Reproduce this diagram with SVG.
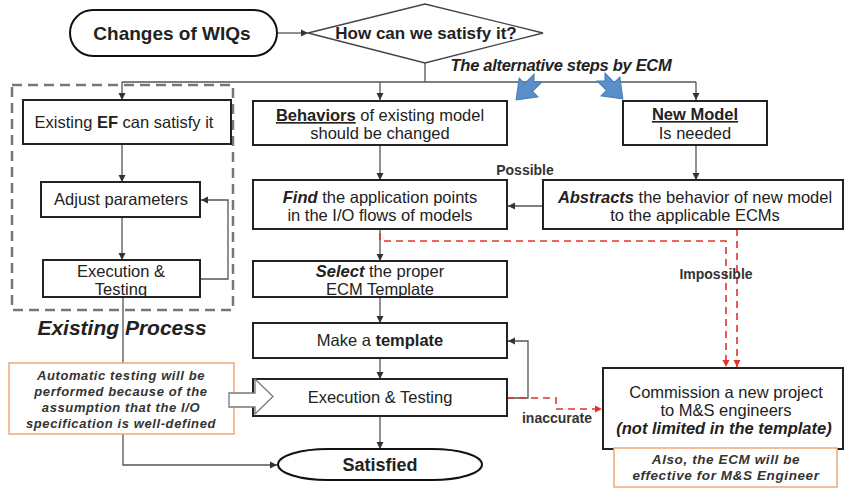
<svg xmlns="http://www.w3.org/2000/svg" width="845" height="489" viewBox="0 0 845 489">
<defs>
<marker id="ah" markerWidth="8" markerHeight="8" refX="7" refY="4" orient="auto" markerUnits="userSpaceOnUse">
<path d="M0,0.5 L7,4 L0,7.5 Z" fill="#333"/>
</marker>
<marker id="ahr" markerWidth="8" markerHeight="8" refX="7" refY="4" orient="auto" markerUnits="userSpaceOnUse">
<path d="M0,0.5 L7,4 L0,7.5 Z" fill="#e8302a"/>
</marker>
</defs>
<style>
.box{fill:#fff;stroke:#222;stroke-width:2}
.t{font-family:"Liberation Sans",Arial,sans-serif;font-size:16.5px;fill:#222;text-anchor:middle}
.b{font-weight:bold}
.i{font-style:italic}
.c{fill:none;stroke:#555;stroke-width:1.3}
.r{fill:none;stroke:#e8302a;stroke-width:1.6;stroke-dasharray:7,5}
.call{fill:#fff;stroke:#f0a878;stroke-width:1.5}
.ct{font-family:"Liberation Sans",Arial,sans-serif;font-size:13px;font-weight:bold;font-style:italic;fill:#333;text-anchor:middle;letter-spacing:0.6px}
.lab{font-family:"Liberation Sans",Arial,sans-serif;font-size:14px;font-weight:bold;fill:#333;text-anchor:middle}
.blue{fill:#5b8fc9;stroke:#4a7db5;stroke-width:1}
</style>

<g id="connectors">
<path class="c" d="M277,33 L308,33" marker-end="url(#ah)"/>
<path class="c" d="M425,63 L425,82 M122,82 L696,82"/>
<path class="c" d="M122,82 L122,100" marker-end="url(#ah)"/>
<path class="c" d="M380,82 L380,100" marker-end="url(#ah)"/>
<path class="c" d="M696,82 L696,100" marker-end="url(#ah)"/>
<path class="c" d="M122,144 L122,182" marker-end="url(#ah)"/>
<path class="c" d="M122,217 L122,260" marker-end="url(#ah)"/>
<path class="c" d="M200,279 L228,279 L228,200 L201,200" marker-end="url(#ah)"/>
<path class="c" d="M123,297 L123,363 M123,434 L123,465 L277,465" marker-end="url(#ah)"/>
<path class="c" d="M380,145 L380,180" marker-end="url(#ah)"/>
<path class="c" d="M696,145 L696,180" marker-end="url(#ah)"/>
<path class="c" d="M543,206 L508,206" marker-end="url(#ah)"/>
<path class="c" d="M380,229 L380,261" marker-end="url(#ah)"/>
<path class="c" d="M380,297 L380,323" marker-end="url(#ah)"/>
<path class="c" d="M380,358 L380,379" marker-end="url(#ah)"/>
<path class="c" d="M380,416 L380,449" marker-end="url(#ah)"/>
<path class="c" d="M507,398 L528,398 L528,341 L508,341" marker-end="url(#ah)"/>
<path class="r" d="M380,233 L380,241 L726,241 L726,367" marker-end="url(#ahr)"/>
<path class="r" d="M737,229 L737,367" marker-end="url(#ahr)"/>
<path class="r" d="M507,398 L556,398 L556,409 L602,409" marker-end="url(#ahr)"/>
<text class="lab" x="525" y="175">Possible</text>
<text class="lab" x="716" y="279">Impossible</text>
<text class="lab" x="557" y="423">inaccurate</text>
</g>

<g id="start">
<rect x="70" y="10" width="207" height="46" rx="23" ry="23" fill="#fff" stroke="#111" stroke-width="2"/>
<text class="t b" x="172" y="40" style="font-size:19px">Changes of WIQs</text>
</g>

<g id="decision">
<polygon points="308,33 425,4 543,33 425,63" fill="#fff" stroke="#444" stroke-width="1.3"/>
<text class="t b" x="426" y="39" style="font-size:17px">How can we satisfy it?</text>
</g>

<g id="alt-label">
<text class="t b i" x="561" y="71" style="font-size:16.5px;letter-spacing:-0.3px">The alternative steps by ECM</text>
<polygon class="blue" transform="translate(527,89) rotate(135) scale(1.1)" points="-14,-5 -2,-5 -2,-12 14,0 -2,12 -2,5 -14,5 -9,0"/>
<polygon class="blue" transform="translate(612,88) rotate(45) scale(1.1)" points="-14,-5 -2,-5 -2,-12 14,0 -2,12 -2,5 -14,5 -9,0"/>
</g>

<g id="existing-process">
<rect x="12" y="85" width="221" height="225" fill="none" stroke="#777" stroke-width="2.5" stroke-dasharray="10,6"/>
<text class="t b i" x="122" y="335" style="font-size:21px">Existing Process</text>
</g>

<g id="existing-ef">
<rect class="box" x="23" y="100" width="208" height="44"/>
<text class="t" x="124" y="128">Existing <tspan class="b">EF</tspan> can satisfy it</text>
</g>

<g id="adjust">
<rect class="box" x="41" y="182" width="159" height="35"/>
<text class="t" x="121" y="205">Adjust parameters</text>
</g>

<g id="exec-left">
<rect class="box" x="43" y="260" width="157" height="37"/>
<text class="t" x="121" y="277">Execution &amp;</text>
<text class="t" x="121" y="295">Testing</text>
</g>

<g id="behaviors">
<rect class="box" x="253" y="101" width="254" height="44"/>
<text class="t" x="380" y="121"><tspan class="b" text-decoration="underline">Behaviors</tspan> of existing model</text>
<text class="t" x="380" y="139">should be changed</text>
</g>

<g id="find">
<rect class="box" x="253" y="180" width="254" height="49"/>
<text class="t" x="380" y="203"><tspan class="b i">Find</tspan> the application points</text>
<text class="t" x="380" y="221">in the I/O flows of models</text>
</g>

<g id="select">
<rect class="box" x="253" y="261" width="254" height="36"/>
<text class="t" x="380" y="277"><tspan class="b i">Select</tspan> the proper</text>
<text class="t" x="380" y="295">ECM Template</text>
</g>

<g id="make">
<rect class="box" x="253" y="323" width="254" height="35"/>
<text class="t" x="380" y="346">Make a <tspan class="b">template</tspan></text>
</g>

<g id="exec-mid">
<rect class="box" x="253" y="379" width="254" height="37"/>
<text class="t" x="380" y="403">Execution &amp; Testing</text>
</g>

<g id="auto-callout">
<rect class="call" x="9" y="363" width="225" height="71"/>
<text class="ct" x="121" y="380">Automatic testing will be</text>
<text class="ct" x="121" y="396">performed because of the</text>
<text class="ct" x="121" y="412">assumption that the I/O</text>
<text class="ct" x="121" y="428">specification  is well-defined</text>
<polygon points="229,393 255,393 255,379 273,396.5 255,414 255,407 229,407" fill="#fff" stroke="#777" stroke-width="1.3"/>
</g>

<g id="satisfied">
<rect x="278" y="449" width="204" height="31" rx="50" ry="15.5" fill="#fff" stroke="#111" stroke-width="2"/>
<text class="t b" x="380" y="471" style="font-size:18px">Satisfied</text>
</g>

<g id="new-model">
<rect class="box" x="623" y="101" width="144" height="44"/>
<text class="t b" x="695" y="120" text-decoration="underline">New Model</text>
<text class="t" x="695" y="139">Is needed</text>
</g>

<g id="abstracts">
<rect class="box" x="543" y="180" width="300" height="49"/>
<text class="t" x="695" y="203"><tspan class="b i">Abstracts</tspan> the behavior of new model</text>
<text class="t" x="695" y="221">to the applicable ECMs</text>
</g>

<g id="commission">
<rect class="box" x="603" y="368" width="240" height="81"/>
<text class="t" x="726" y="398">Commission a new project</text>
<text class="t" x="726" y="416">to M&amp;S engineers</text>
<text class="t b i" x="724" y="434">(not limited in the template)</text>
</g>

<g id="ecm-callout">
<rect class="call" x="614" y="448" width="223" height="39"/>
<text class="ct" x="726" y="464" style="font-size:13.5px">Also, the ECM will be</text>
<text class="ct" x="726" y="480" style="font-size:13.5px">effective for M&amp;S Engineer</text>
</g>
</svg>
